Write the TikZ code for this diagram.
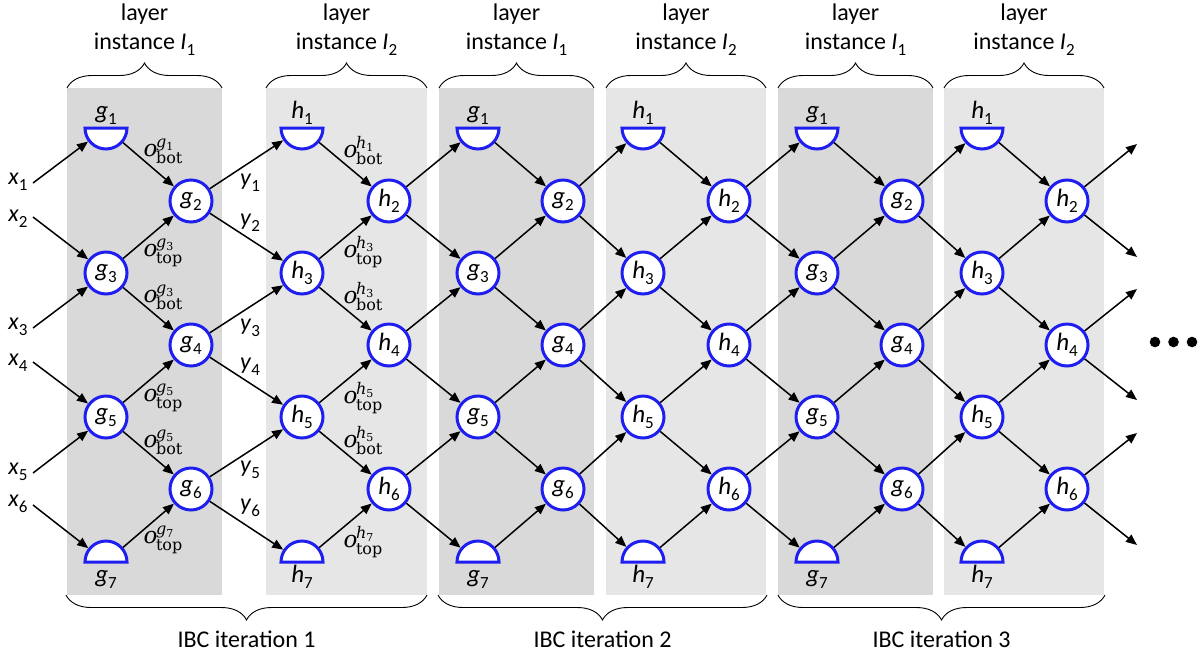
\documentclass[tikz,border=0pt]{standalone}
\usepackage{fontspec}
\setmainfont{Carlito}
\newfontfamily\mfont{DejaVu Serif}
\usetikzlibrary{arrows.meta,decorations.pathreplacing}
\definecolor{nodeblue}{RGB}{30,30,240}
\definecolor{paneldark}{RGB}{217,217,217}
\definecolor{panellight}{RGB}{231,230,230}
% italic variable with an upright, lowered index
\newcommand\lowsub[1]{\raisebox{-6pt}{\fontsize{17}{17}\selectfont #1}}
\newcommand\vlab[2]{\textit{#1}\lowsub{#2}}
% output label: italic o with a unit name above and top/bot below
\newcommand\olabel[3]{%
  {\itshape o}\hspace{-1.5pt}%
  \rlap{\raisebox{9pt}{\fontsize{16}{16}\selectfont\itshape #1\raisebox{-3pt}{\fontsize{11}{11}\selectfont\upshape #2}}}%
  \raisebox{-7pt}{\fontsize{16}{16}\selectfont #3}}
\begin{document}
\begin{tikzpicture}[x=1pt,y=-1pt,
  unit/.style={circle, draw=nodeblue, line width=3pt, fill=white,
    minimum size=42pt, inner sep=0pt, font=\fontsize{25}{25}\selectfont},
  half/.style={circle, minimum size=42pt, inner sep=0pt, outer sep=1.5pt},
  halfline/.style={draw=nodeblue, line width=3pt, fill=white, line join=miter},
  wire/.style={-{Triangle[length=11pt,width=9pt]}, line width=1.5pt},
  lab/.style={font=\fontsize{24}{29}\selectfont, inner sep=0pt},
  olab/.style={font=\mfont\fontsize{23}{23}\selectfont, inner sep=0pt},
  brace/.style={decorate, decoration={brace, amplitude=25pt}, line width=0.9pt}]
\useasboundingbox (0,0) rectangle (1202,657);

% shaded columns, one per layer instance
\foreach \l/\r/\c in {67/222/paneldark, 266/427/panellight, 439/594/paneldark,
                      606/766/panellight, 778/933/paneldark, 944/1104/panellight}{
  \fill[\c] (\l,88) rectangle (\r,595);
  \draw[brace] (\l,88) -- (\r,88);
}

% braces for the iterations
\draw[brace] (427,595) -- (66,595);
\draw[brace] (767,595) -- (438,595);
\draw[brace] (1105,595) -- (778,595);
\node[lab] (it1) at (246.5,639) {IBC iteration 1};
\node[lab] (it2) at (602.5,639) {IBC iteration 2};
\node[lab] (it3) at (941.5,639) {IBC iteration 3};

% layer captions
\foreach \p/\cx/\i in {1/144.5/1, 2/346.5/2, 3/516.5/1, 4/686/2, 5/855.5/1, 6/1024/2}{
  \node[lab, align=center] (cap\p) at (\cx,30) {layer\\instance \vlab{I}{\i}};
}

% units of each layer instance
\foreach \p/\a/\b/\v in {1/106/191/g, 2/302/389/h, 3/478/563/g,
                         4/643/729/h, 5/817/902/g, 6/982/1067/h}{
  \node[half] (n\p-1) at (\a,128) {};
  \draw[halfline] ([xshift=-21pt]n\p-1.center) arc[start angle=180, end angle=0, radius=21] -- cycle;
  \node[lab, anchor=base, font=\fontsize{25}{25}\selectfont] (t\p-1) at (\a,118) {\vlab{\v}{1}};
  \node[half] (n\p-7) at (\a,562) {};
  \draw[halfline] ([xshift=-21pt]n\p-7.center) arc[start angle=180, end angle=360, radius=21] -- cycle;
  \node[lab, anchor=base, font=\fontsize{25}{25}\selectfont] (t\p-7) at (\a,582) {\vlab{\v}{7}};
  \node[unit] (n\p-3) at (\a,273) {\vlab{\v}{3}};
  \node[unit] (n\p-5) at (\a,417) {\vlab{\v}{5}};
  \node[unit] (n\p-2) at (\b,201) {\vlab{\v}{2}};
  \node[unit] (n\p-4) at (\b,345) {\vlab{\v}{4}};
  \node[unit] (n\p-6) at (\b,489) {\vlab{\v}{6}};
  \draw[wire] (n\p-1) -- (n\p-2);
  \draw[wire] (n\p-3) -- (n\p-2);
  \draw[wire] (n\p-3) -- (n\p-4);
  \draw[wire] (n\p-5) -- (n\p-4);
  \draw[wire] (n\p-5) -- (n\p-6);
  \draw[wire] (n\p-7) -- (n\p-6);
}

% connections from one instance to the next
\foreach \p/\q in {1/2, 2/3, 3/4, 4/5, 5/6}{
  \draw[wire] (n\p-2) -- (n\q-1);
  \draw[wire] (n\p-2) -- (n\q-3);
  \draw[wire] (n\p-4) -- (n\q-3);
  \draw[wire] (n\p-4) -- (n\q-5);
  \draw[wire] (n\p-6) -- (n\q-5);
  \draw[wire] (n\p-6) -- (n\q-7);
}

% inputs
\foreach \k/\y/\ly/\t in {1/183/182/1, 2/217/219/3, 3/328/327/3,
                          4/362/363/5, 5/473/472/5, 6/505/504/7}{
  \coordinate (in\k) at (33,\y);
  \node[lab] (xl\k) at (18,\ly) {\vlab{x}{\k}};
  \draw[wire] (in\k) -- (n1-\t);
}

% outputs of the last instance
\foreach \r/\u/\d in {2/144/257, 4/289/400, 6/433/545}{
  \coordinate (out\r u) at (1137,\u);
  \coordinate (out\r d) at (1137,\d);
  \draw[wire] (n6-\r) -- (out\r u);
  \draw[wire] (n6-\r) -- (out\r d);
}

% labels of the first two instances
\node[olab] (ob1) at (163,151) {\olabel{g}{1}{bot}};
\node[olab] (ot3) at (163,253) {\olabel{g}{3}{top}};
\node[olab] (ob3) at (163,297) {\olabel{g}{3}{bot}};
\node[olab] (ot5) at (163,398) {\olabel{g}{5}{top}};
\node[olab] (ob5) at (163,442) {\olabel{g}{5}{bot}};
\node[olab] (ot7) at (163,540) {\olabel{g}{7}{top}};
\node[olab] (pb1) at (363,151) {\olabel{h}{1}{bot}};
\node[olab] (pt3) at (363,252) {\olabel{h}{3}{top}};
\node[olab] (pb3) at (363,297) {\olabel{h}{3}{bot}};
\node[olab] (pt5) at (363,398) {\olabel{h}{5}{top}};
\node[olab] (pb5) at (363,441) {\olabel{h}{5}{bot}};
\node[olab] (pt7) at (363,542) {\olabel{h}{7}{top}};
\foreach \k/\y in {1/183, 2/223, 3/328, 4/367, 5/470, 6/508}{
  \node[lab] (yl\k) at (250,\y) {\vlab{y}{\k}};
}

% continuation dots
\fill (1155,342) circle[radius=5.3] (1173.5,342) circle[radius=5.3] (1192,342) circle[radius=5.3];
\end{tikzpicture}
\end{document}
